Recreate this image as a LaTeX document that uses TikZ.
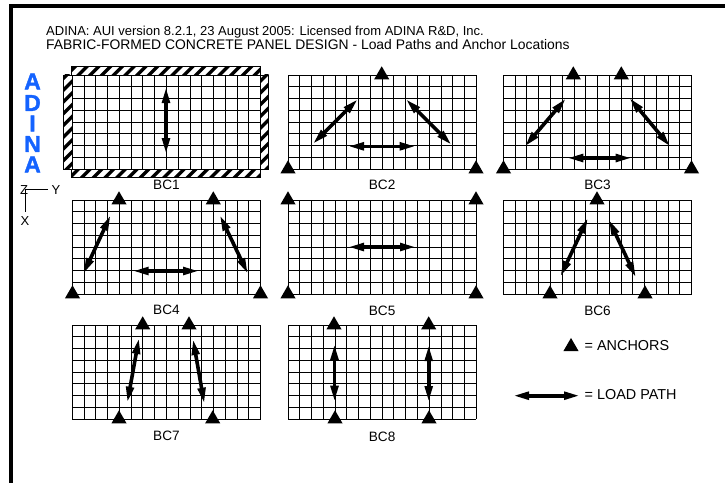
\documentclass[tikz,border=0pt]{standalone}
\usepackage{fontspec}
\setmainfont{Liberation Sans}
\newfontface\logofont[FakeBold=1.5]{Liberation Sans Bold}
\usepackage{xcolor}
\usepackage{tikz}
\usetikzlibrary{
  arrows.meta,
  positioning,
  shapes.geometric
}
\definecolor{AdinaBlue}{HTML}{1463FF}
\definecolor{PanelInk}{HTML}{000000}
\tikzset{
  panelbox/.style={rectangle,anchor=north west,minimum width=188.3pt,minimum height=94pt,inner sep=0pt,outer sep=0pt},
  gridline/.style={draw=PanelInk,line width=0.95pt},
  panellabel/.style={font=\fontsize{13.6}{15}\selectfont,inner sep=0pt,text=black},
  plaintext/.style={font=\fontsize{14.4}{16}\selectfont,inner sep=0pt,text=black},
  anchormark/.style={regular polygon,regular polygon sides=3,fill=black,minimum size=17.5pt,inner sep=0pt,outer sep=0pt},
  loadline/.style={line width=3.6pt,draw=black,{Stealth[inset=0pt,length=16pt,width=7.5pt]}-{Stealth[inset=0pt,length=16pt,width=7.5pt]}},
  logoletter/.style={font=\fontsize{23}{23}\logofont,text=AdinaBlue,inner sep=0pt}
}
\begin{document}
\begin{tikzpicture}[x=1pt,y=-1pt]
  \useasboundingbox (0,0) rectangle (725,483);
  % frame
  \fill[black] (9,4) rectangle (725,8);
  \fill[black] (9,4) rectangle (13,483);
  % titles
  \node[plaintext,font=\fontsize{13}{15}\selectfont,anchor=base west] (titleone) at (46,35) {ADINA: AUI version 8.2.1, 23 August 2005: Licensed from ADINA R\&D, Inc.};
  \node[plaintext,font=\fontsize{13.9}{15}\selectfont,anchor=base west] (titletwo) at (46,49) {FABRIC-FORMED CONCRETE PANEL DESIGN - Load Paths and Anchor Locations};
  % logo
  \foreach \tag/\letter/\ypos in {la/A/81.5,lb/D/103,lc/I/123.5,ld/N/144,le/A/164.5}
    \node[logoletter] (\tag) at (32.5,\ypos) {\letter};
  % axes
  \node[plaintext,font=\fontsize{13}{15}\selectfont] (zlabel) at (24,190) {Z};
  \node[plaintext,font=\fontsize{13}{15}\selectfont] (ylabel) at (56,190) {Y};
  \node[plaintext,font=\fontsize{13}{15}\selectfont] (xlabel) at (25,221.5) {X};
  \coordinate (axisorigin) at (25.5,189.5);
  \coordinate (axisy) at (48,189.5);
  \coordinate (axisx) at (25.5,212);
  \draw[line width=0.7pt] (axisy) -- (axisorigin) -- (axisx);
  % hatched edges of BC1
  \begin{scope}
    \clip (71,66.5) rectangle (260.5,75) (63.5,74) rectangle (72.3,169)
          (260.5,74) rectangle (268.5,169) (71,169) rectangle (260.5,177.5);
    \foreach \c in {130,141.75,...,460}
      \draw[line width=3.2pt] (\c-60,60) -- (\c-190,190);
  \end{scope}
  \draw[line width=0.8pt] (71,75) |- (260.5,66.5) -- (260.5,75);
  \draw[line width=0.8pt] (71,169) |- (260.5,177.5) -- (260.5,169);
  \draw[line width=0.8pt] (72.3,75) -| (63.5,169) -- (72.3,169);
  \draw[line width=0.8pt] (260.5,75) -| (268.5,169) -- (260.5,169);
  % panels
  \foreach \name/\px/\py/\txt/\gap in {bca/72.3/75/BC1/11,bcb/288/75/BC2/11,bcc/503.4/75/BC3/10.5,
      bcd/72.3/200/BC4/11,bce/288/200/BC5/11.5,bcf/503.4/200/BC6/11.5,
      bcg/72.3/325/BC7/12,bch/288/325/BC8/12.5} {
    \node[panelbox] (\name) at (\px,\py) {};
    \foreach \i in {0,...,16}
      \draw[gridline] ([xshift=\i*11.77pt]\name.north west) -- ([xshift=\i*11.77pt]\name.south west);
    \foreach \j in {0,...,8}
      \draw[gridline] ([yshift=-\j*11.75pt]\name.north west) -- ([yshift=-\j*11.75pt]\name.north east);
    \node[panellabel,below=\gap pt of \name] (\name label) {\txt};
  }
  % anchors
  \foreach \tag/\ax/\ay in {ba/381.7/75,bb/288/169,bc/476/169,
      ca/573.3/75,cb/621.3/75,cc/503.5/169,cd/691.5/169,
      da/119/200,db/213.3/200,dc/72.5/294,dd/260.5/294,
      ea/288/200,eb/476/200,ec/288/294,ed/476/294,
      fa/597/200,fb/550/294,fc/645/294,
      ga/142.7/325,gb/189/325,gc/119/419,gd/212.7/419,
      ha/334/325,hb/428.7/325,hc/335/419,hd/429/419,
      keyanchor/571/346.7}
    \node[anchormark] (\tag) at (\ax,\ay) {};
  % load paths
  \foreach \tag/\sx/\sy/\ex/\ey in {pa/166/87/166/154,
      pb/312.7/144/358/99,pc/405.7/99/451.7/145,pd/348/146.3/415.7/146.3,
      pe/524.7/146.7/566/98.3,pf/629.3/97.7/670.3/146.7,pg/567.3/158/631.7/158,
      ph/83.3/274/110.7/215,pi/219.7/215/248/274,pj/132.7/271/199/271,
      pk/348/247/416/247,
      pl/560.3/276.7/588/217.7,pm/608.7/219.3/636/277.7,
      pn/127.3/402.7/139/338,po/193/339/204.3/403.7,
      pp/334.5/344/334.5/401.7,pq/428.7/345/428.7/402,
      keypath/513/395.7/580/395.7} {
    \coordinate (\tag s) at (\sx,\sy);
    \coordinate (\tag e) at (\ex,\ey);
    \draw[loadline] (\tag s) -- (\tag e);
  }
  % legend
  \node[plaintext,anchor=west] (keyanchortext) at (584.5,346) {= ANCHORS};
  \node[plaintext,anchor=west] (keypathtext) at (584.5,395) {= LOAD PATH};
\end{tikzpicture}
\end{document}
